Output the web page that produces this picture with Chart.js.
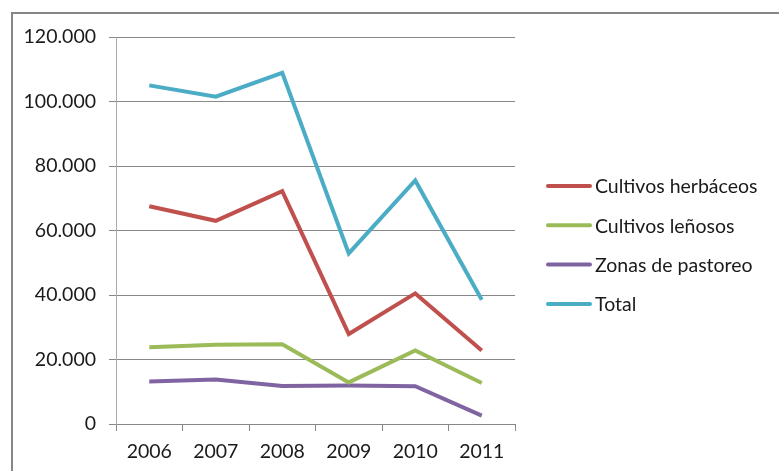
<!DOCTYPE html>
<html>
<head>
<meta charset="utf-8">
<script src="https://cdn.jsdelivr.net/npm/chart.js@4"></script>
<style>
  html, body { margin: 0; padding: 0; background: #fff; }
  #wrap { width: 779px; height: 471px; position: relative; }
</style>
</head>
<body>
<div id="wrap"><canvas id="myChart" width="779" height="471"></canvas></div>
<script>
var anios = ['2006', '2007', '2008', '2009', '2010', '2011'];

var herbaceos = [67500, 63000, 72200, 27900, 40500, 22800];
var lenosos = [23800, 24600, 24700, 12900, 22800, 12700];
var pastoreo = [13200, 13800, 11800, 11900, 11700, 2600];
var total = [105000, 101500, 108900, 52900, 75500, 38500];

var nombres = ['Cultivos herbáceos', 'Cultivos leñosos', 'Zonas de pastoreo', 'Total'];
var colores = ['#C0504D', '#9BBB59', '#8064A2', '#4BACC6'];

var fuente = "Lato, 'Open Sans', sans-serif";
var tam = 19.5;

function miles(v) {
  return String(v).replace(/\B(?=(\d{3})+(?!\d))/g, '.');
}

// borde del grafico (solo se ven arriba y a la izquierda)
var borde = {
  id: 'borde',
  beforeDraw: function (chart) {
    var c = chart.ctx;
    c.save();
    c.strokeStyle = '#868686';
    c.lineWidth = 2;
    c.strokeRect(12, 13, 900, 600);
    c.restore();
  }
};

// leyenda a mano para colocarla igual que en el original
var leyenda = {
  id: 'leyenda',
  afterDraw: function (chart) {
    var c = chart.ctx;
    c.save();
    c.font = tam + 'px ' + fuente;
    c.textBaseline = 'middle';
    chart.data.datasets.forEach(function (ds, i) {
      var y = 186 + i * 39.3;
      c.strokeStyle = ds.borderColor;
      c.lineWidth = 4;
      c.lineCap = 'round';
      c.beginPath();
      c.moveTo(548, y);
      c.lineTo(590, y);
      c.stroke();
      c.fillStyle = '#1a1a1a';
      c.fillText(ds.label, 595, y + 1);
    });
    c.restore();
  }
};

var series = [herbaceos, lenosos, pastoreo, total];
var datasets = series.map(function (s, i) {
  return {
    label: nombres[i],
    data: s,
    borderColor: colores[i],
    backgroundColor: colores[i],
    borderWidth: 4,
    pointRadius: 0,
    tension: 0,
    fill: false
  };
});

const ctx = document.getElementById('myChart').getContext('2d');
const myChart = new Chart(ctx, {
  type: 'line',
  data: {
    labels: anios,
    datasets: datasets
  },
  options: {
    responsive: false,
    animation: false,
    layout: {
      padding: { top: 37, right: 264, bottom: 0, left: 0 }
    },
    plugins: {
      legend: { display: false },
      tooltip: { enabled: false }
    },
    scales: {
      x: {
        offset: true,
        afterFit: function (scale) { scale.height = 47; },
        grid: {
          offset: true,
          drawOnChartArea: false,
          drawTicks: true,
          tickLength: 7,
          color: '#888'
        },
        border: { color: '#888', width: 1 },
        ticks: {
          padding: 9,
          color: '#1a1a1a',
          font: { family: fuente, size: tam },
          maxRotation: 0
        }
      },
      y: {
        min: 0,
        max: 120000,
        afterFit: function (scale) { scale.width = 116; },
        grid: {
          color: '#888',
          tickLength: 7,
          drawTicks: true
        },
        border: { color: '#aaa', width: 1 },
        ticks: {
          stepSize: 20000,
          padding: 13,
          color: '#1a1a1a',
          font: { family: fuente, size: tam },
          callback: function (v) { return miles(v); }
        }
      }
    }
  },
  plugins: [borde, leyenda]
});
</script>
</body>
</html>
